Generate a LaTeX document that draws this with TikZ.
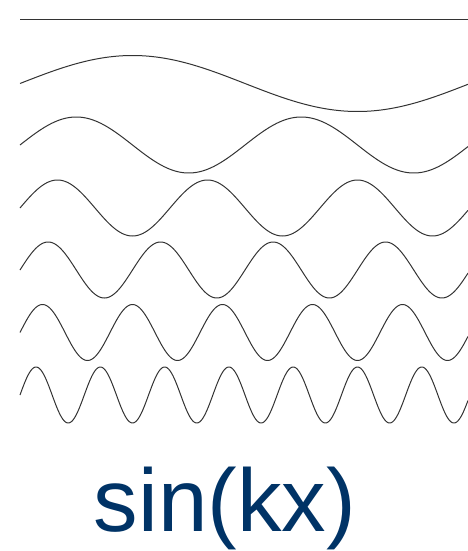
\documentclass[tikz,border=0pt]{standalone}
\usepackage{fontspec}
\setmainfont{Liberation Sans}
\definecolor{labelblue}{HTML}{003366}
\tikzset{wave/.style={line width=1pt, draw=black!80, line join=round}}
\begin{document}
\begin{tikzpicture}[x=1pt,y=-1pt]
\useasboundingbox (0,0) rectangle (468,551);
\draw[wave] (20,20) -- (468,20);
\foreach \k/\c in {1/83.5,2/145,3/208,4/270,5/332.5,7/395}{
  \draw[wave] plot[domain=20:468, samples=400, smooth] (\x, {\c - 28*sin(\k*(\x-20)*0.8)});
}
\node[anchor=base, inner sep=0pt, text=labelblue, font=\fontsize{89}{89}\selectfont] (label) at (225,531) {sin(kx)};
\end{tikzpicture}
\end{document}
